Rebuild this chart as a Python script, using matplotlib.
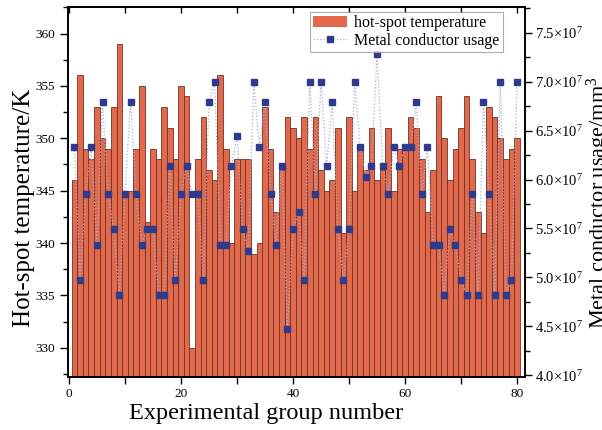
import matplotlib
matplotlib.use('Agg')
import matplotlib.pyplot as plt
from matplotlib.ticker import MultipleLocator, FuncFormatter
from matplotlib.patches import Patch
from matplotlib.lines import Line2D

plt.rcParams['font.family'] = ['Liberation Serif', 'DejaVu Serif']
plt.rcParams['mathtext.fontset'] = 'custom'
plt.rcParams['mathtext.rm'] = 'Liberation Serif'
plt.rcParams['mathtext.it'] = 'Liberation Serif:italic'

groups = list(range(1, 81))
hotspot_temp = [346, 356, 349, 348, 353, 350, 349, 353, 359, 345,
                345, 349, 355, 342, 349, 348, 353, 351, 348, 355,
                354, 330, 348, 352, 347, 346, 356, 349, 340, 348,
                348, 348, 339, 340, 353, 349, 343, 347, 352, 351,
                350, 352, 349, 352, 347, 345, 346, 351, 341, 352,
                345, 349, 347, 351, 346, 347, 351, 345, 349, 349,
                352, 351, 348, 343, 347, 354, 350, 346, 349, 351,
                354, 348, 343, 341, 353, 352, 350, 348, 349, 350]
# metal conductor usage in units of 1e7 mm^3
metal_usage_e7 = [6.33, 4.97, 5.85, 6.33, 5.33, 6.79, 5.85, 5.49, 4.82, 5.85,
                  6.79, 5.85, 5.33, 5.49, 5.49, 4.82, 4.82, 6.14, 4.97, 5.85,
                  6.14, 5.85, 5.85, 4.97, 6.79, 7.00, 5.33, 5.33, 6.14, 6.44,
                  5.49, 5.27, 7.00, 6.33, 6.79, 5.85, 5.33, 6.14, 4.47, 5.49,
                  5.67, 4.97, 7.00, 5.85, 7.00, 6.14, 6.79, 5.49, 4.97, 5.49,
                  7.00, 6.33, 6.03, 6.14, 7.28, 6.14, 5.85, 6.33, 6.14, 6.33,
                  6.33, 6.79, 5.85, 6.33, 5.33, 5.33, 4.82, 5.49, 5.33, 4.97,
                  4.82, 5.85, 4.82, 6.79, 5.85, 4.82, 7.00, 4.82, 4.97, 7.00]
metal_usage = [v * 1e7 for v in metal_usage_e7]

bar_color = '#E2694B'
marker_color = '#2E3B8C'
line_color = '#A9AED6'

fig = plt.figure(figsize=(6.02, 4.30), dpi=100)
ax = fig.add_axes([0.1135, 0.124, 0.7585, 0.859])
ax.bar(groups, hotspot_temp, width=1.0, color=bar_color,
       edgecolor='#6e3426', linewidth=0.6, zorder=2)
ax.set_xlim(-0.1, 81.4)
ax.set_ylim(327.25, 362.5)

ax2 = ax.twinx()
ax2.plot(groups, metal_usage, linestyle=':', color=line_color, lw=0.9,
         marker='s', ms=4.8, mfc=marker_color, mec=marker_color, zorder=3)
ax2.set_ylim(3.985e7, 7.76e7)

tick_fs = 9.5
ax.xaxis.set_major_locator(MultipleLocator(20))
ax.xaxis.set_minor_locator(MultipleLocator(10))
ax.yaxis.set_major_locator(MultipleLocator(5))
ax.yaxis.set_minor_locator(MultipleLocator(2.5))
ax2.yaxis.set_major_locator(MultipleLocator(0.5e7))
ax2.yaxis.set_minor_locator(MultipleLocator(0.25e7))
ax2.yaxis.set_major_formatter(FuncFormatter(lambda v, p: f"{v/1e7:.1f}\u00d710$^{{7}}$"))

ax.tick_params(axis='y', which='major', direction='out', length=6, width=1, labelsize=tick_fs)
ax.tick_params(axis='y', which='minor', direction='out', length=3.5, width=1)
ax.tick_params(axis='x', which='major', direction='out', length=5, width=1, labelsize=tick_fs, top=False)
ax.tick_params(axis='x', which='minor', direction='out', length=5, width=1, top=False)
ax2.tick_params(axis='y', which='major', direction='out', length=5, width=1,
                labelsize=10.5, pad=2)
ax2.tick_params(axis='y', which='minor', direction='out', length=3.5, width=1)

# inward ticks on the top spine
top = ax.secondary_xaxis('top')
top.xaxis.set_major_locator(MultipleLocator(10))
top.tick_params(axis='x', direction='in', length=4, width=1, labeltop=False)
top.spines['top'].set_linewidth(1.2)

for sp in ax.spines.values():
    sp.set_linewidth(1.2)
for sp in ax2.spines.values():
    sp.set_linewidth(1.2)

ax.set_xlabel('Experimental group number', fontsize=17.5)
ax.xaxis.set_label_coords(0.434, -0.070)
ax.set_ylabel('Hot-spot temperature/K', fontsize=18)
ax.yaxis.set_label_coords(-0.072, 0.458)
ax2.set_ylabel('Metal conductor usage/mm$^3$', fontsize=16)
ax2.yaxis.set_label_coords(1.132, 0.47)

handles = [Patch(facecolor=bar_color, edgecolor='none'),
           Line2D([], [], linestyle=':', color=line_color, lw=0.9, marker='s',
                  ms=4.8, mfc=marker_color, mec=marker_color)]
labels = ['hot-spot temperature', 'Metal conductor usage']
leg = ax2.legend(handles, labels, loc='upper right', bbox_to_anchor=(0.951, 0.988),
                 borderaxespad=0, fontsize=11.5, frameon=True, fancybox=False,
                 handlelength=2.1, handletextpad=0.45, borderpad=0.2, labelspacing=0.1)
leg.get_frame().set_edgecolor('#9a9a9a')
leg.get_frame().set_linewidth(0.8)

fig.savefig('out.png', dpi=100)
